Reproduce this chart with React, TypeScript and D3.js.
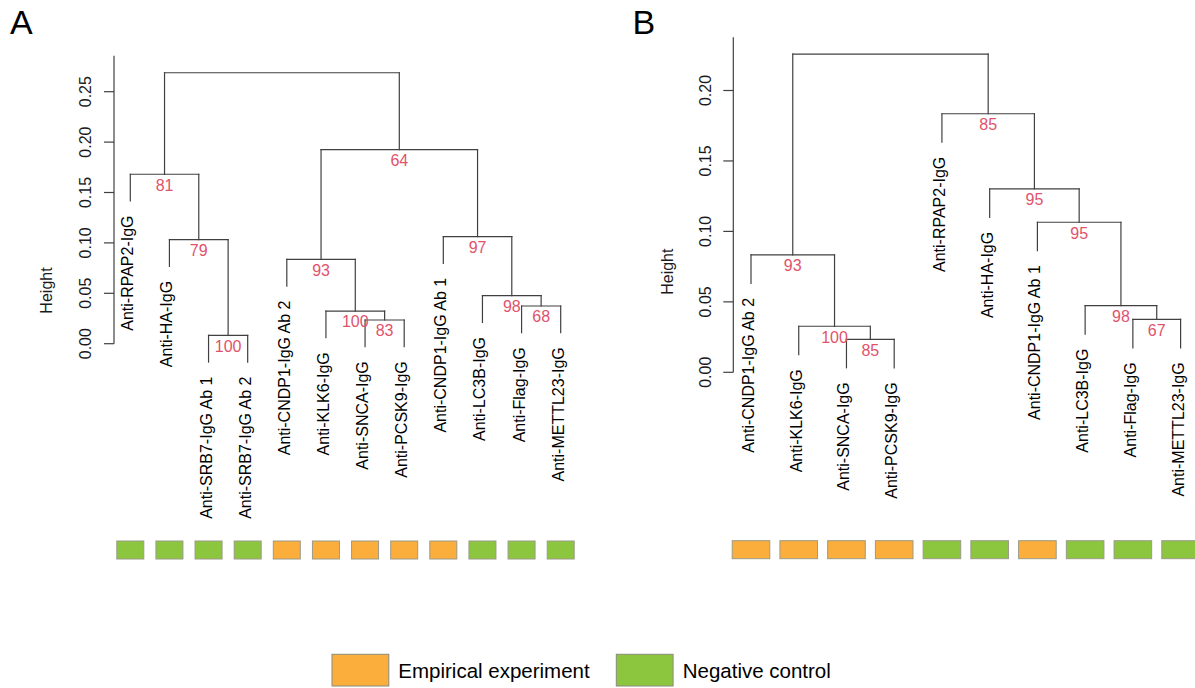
import React from "react";
import * as d3 from "d3";

// ---------- Data ----------
const leavesA = [
  "Anti-RPAP2-IgG", "Anti-HA-IgG", "Anti-SRB7-IgG Ab 1", "Anti-SRB7-IgG Ab 2",
  "Anti-CNDP1-IgG Ab 2", "Anti-KLK6-IgG", "Anti-SNCA-IgG", "Anti-PCSK9-IgG",
  "Anti-CNDP1-IgG Ab 1", "Anti-LC3B-IgG", "Anti-Flag-IgG", "Anti-METTL23-IgG",
];
const groupsA = ["N", "N", "N", "N", "E", "E", "E", "E", "E", "N", "N", "N"];
// merge rows: negative = leaf (1-based), positive = earlier merge row (1-based)
const mergeA = [[-3, -4], [-7, -8], [-6, 2], [-11, -12], [-10, 4], [-5, 3], [-2, 1], [-9, 5], [-1, 7], [6, 8], [9, 10]];
const heightA = [0.0083, 0.0235, 0.0324, 0.0374, 0.0476, 0.0837, 0.1032, 0.1062, 0.1681, 0.1925, 0.2688];
const bootA: (number | null)[] = [100, 83, 100, 68, 98, 93, 79, 97, 81, 64, null];
const ticksA = [0, 0.05, 0.1, 0.15, 0.2, 0.25];

const leavesB = [
  "Anti-CNDP1-IgG Ab 2", "Anti-KLK6-IgG", "Anti-SNCA-IgG", "Anti-PCSK9-IgG",
  "Anti-RPAP2-IgG", "Anti-HA-IgG", "Anti-CNDP1-IgG Ab 1", "Anti-LC3B-IgG",
  "Anti-Flag-IgG", "Anti-METTL23-IgG",
];
const groupsB = ["E", "E", "E", "E", "N", "N", "E", "N", "N", "N"];
const mergeB = [[-3, -4], [-2, 1], [-9, -10], [-8, 3], [-1, 2], [-7, 4], [-6, 6], [-5, 7], [5, 8]];
const heightB = [0.0234, 0.0327, 0.0376, 0.0473, 0.0833, 0.1065, 0.1302, 0.1835, 0.2258];
const bootB: (number | null)[] = [85, 100, 67, 98, 93, 95, 95, 85, null];
const ticksB = [0, 0.05, 0.1, 0.15, 0.2];

const groupNames = { E: "Empirical experiment", N: "Negative control" };
const groupColors: Record<string, string> = { E: "#FBAE3B", N: "#8CC63F" };

// ---------- Styling ----------
const FONT = "'Liberation Sans', Arial, Helvetica, sans-serif";
const LINE = "#404040";
const RED = "#DF536B";

type PanelCfg = {
  letter: string;
  letterX: number;
  leaves: string[];
  groups: string[];
  merge: number[][];
  heights: number[];
  boot: (number | null)[];
  ticks: number[];
  xRange: [number, number];
  yDomain: [number, number];
  yRange: [number, number];
  axisX: number;
  axisTop: number;
  hang: number;
  boxW: number;
  boxY: number;
  boxH: number;
  tickLabelX: number;
  heightX: number;
  heightY: number;
};

const panels: PanelCfg[] = [
  {
    letter: "A", letterX: 10,
    leaves: leavesA, groups: groupsA, merge: mergeA, heights: heightA, boot: bootA, ticks: ticksA,
    xRange: [130.3, 560.7], yDomain: [0, 0.25], yRange: [343.7, 91.7],
    axisX: 114, axisTop: 0.2857, hang: 0.0265,
    boxW: 27, boxY: 541, boxH: 18,
    tickLabelX: 85, heightX: 46.7, heightY: 290.5,
  },
  {
    letter: "B", letterX: 632.5,
    leaves: leavesB, groups: groupsB, merge: mergeB, heights: heightB, boot: bootB, ticks: ticksB,
    xRange: [751, 1180.6], yDomain: [0, 0.2], yRange: [372.3, 90.5],
    axisX: 733.3, axisTop: 0.2378, hang: 0.0202,
    boxW: 37.6, boxY: 540.7, boxH: 18,
    tickLabelX: 705, heightX: 668.5, heightY: 271.7,
  },
];

function Panel({ cfg }: { cfg: PanelCfg }) {
  const n = cfg.leaves.length;
  const x = d3.scaleLinear().domain([1, n]).range(cfg.xRange);
  const y = d3.scaleLinear().domain(cfg.yDomain).range(cfg.yRange);
  const fmt = d3.format(".2f");

  // compute node x positions (midpoint of children, as in R dendrograms)
  const nodeX: number[] = [];
  const childX = (c: number) => (c < 0 ? x(-c) : nodeX[c - 1]);
  cfg.merge.forEach((m, i) => {
    nodeX[i] = (childX(m[0]) + childX(m[1])) / 2;
  });

  const segs: { x1: number; y1: number; x2: number; y2: number }[] = [];
  const leafEnd: number[] = new Array(n + 1).fill(0);
  cfg.merge.forEach((m, i) => {
    const h = cfg.heights[i];
    const yh = y(h);
    const xl = childX(m[0]);
    const xr = childX(m[1]);
    segs.push({ x1: xl, y1: yh, x2: xr, y2: yh });
    m.forEach((c) => {
      const cx = childX(c);
      let cy: number;
      if (c < 0) {
        cy = y(h - cfg.hang);
        leafEnd[-c] = cy;
      } else {
        cy = y(cfg.heights[c - 1]);
      }
      segs.push({ x1: cx, y1: yh, x2: cx, y2: cy });
    });
  });

  return (
    <g>
      <text x={cfg.letterX} y={34.3} fontSize={34} fontFamily={FONT} fill="#000">
        {cfg.letter}
      </text>
      {/* axis */}
      <line x1={cfg.axisX} x2={cfg.axisX} y1={y(0)} y2={y(cfg.axisTop)} stroke={LINE} strokeWidth={1.2} />
      {cfg.ticks.map((t) => (
        <g key={t}>
          <line x1={cfg.axisX - 10} x2={cfg.axisX} y1={y(t)} y2={y(t)} stroke={LINE} strokeWidth={1.2} />
          <text
            transform={`translate(${cfg.tickLabelX},${y(t)}) rotate(-90)`}
            textAnchor="middle"
            dy="0.36em"
            fontSize={16}
            fontFamily={FONT}
            fill="#1a1a1a"
          >
            {fmt(t)}
          </text>
        </g>
      ))}
      <text
        transform={`translate(${cfg.heightX},${cfg.heightY}) rotate(-90)`}
        textAnchor="middle"
        dy="0.3em"
        fontSize={16}
        fontFamily={FONT}
        fill="#1a1a1a"
      >
        Height
      </text>
      {/* tree */}
      {segs.map((s, i) => (
        <line key={i} x1={s.x1} y1={s.y1} x2={s.x2} y2={s.y2} stroke={LINE} strokeWidth={1.2} strokeLinecap="square" />
      ))}
      {cfg.boot.map((b, i) =>
        b == null ? null : (
          <text
            key={i}
            x={nodeX[i]}
            y={y(cfg.heights[i]) + 16.4}
            textAnchor="middle"
            fontSize={16}
            fontFamily={FONT}
            fill={RED}
          >
            {b}
          </text>
        )
      )}
      {cfg.leaves.map((l, i) => (
        <text
          key={l}
          transform={`translate(${x(i + 1)},${leafEnd[i + 1] + 14.5}) rotate(-90)`}
          textAnchor="end"
          dy={3}
          fontSize={16}
          fontFamily={FONT}
          fill="#000"
        >
          {l}
        </text>
      ))}
      {/* group boxes */}
      {cfg.groups.map((g, i) => (
        <rect
          key={i}
          x={x(i + 1) - cfg.boxW / 2}
          y={cfg.boxY}
          width={cfg.boxW}
          height={cfg.boxH}
          fill={groupColors[g]}
          stroke="#9a9a8a"
          strokeWidth={1}
        />
      ))}
    </g>
  );
}

export default function App() {
  const legend = [
    { key: "E", x: 332, tx: 398.3 },
    { key: "N", x: 616.3, tx: 682.7 },
  ];
  return (
    <svg
      width={1195}
      height={688}
      style={{ position: "absolute", left: 0, top: 0, background: "#fff" }}
    >
      <rect x={0} y={0} width={1195} height={688} fill="#fff" />
      {panels.map((p) => (
        <Panel key={p.letter} cfg={p} />
      ))}
      {legend.map((l) => (
        <g key={l.key}>
          <rect x={l.x} y={654.3} width={56.8} height={31.7} fill={groupColors[l.key]} stroke="#8a8a7a" strokeWidth={1} />
          <text x={l.tx} y={677.7} fontSize={20.5} fontFamily={FONT} fill="#000">
            {groupNames[l.key as "E" | "N"]}
          </text>
        </g>
      ))}
    </svg>
  );
}
